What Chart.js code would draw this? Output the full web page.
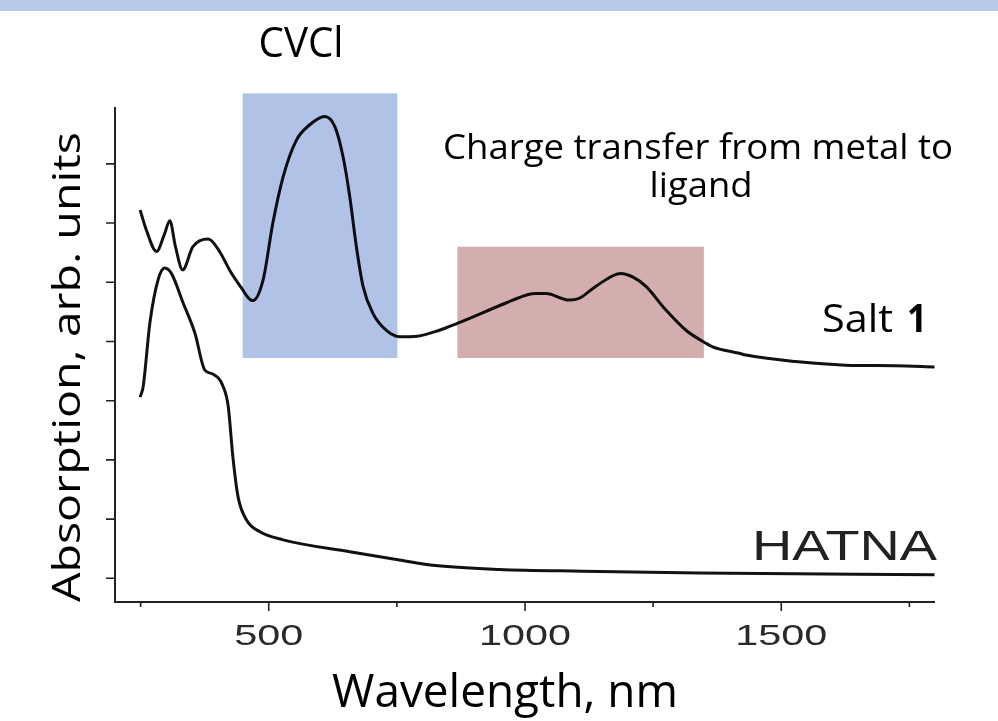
<!DOCTYPE html>
<html>
<head>
<meta charset="utf-8">
<script src="https://cdn.jsdelivr.net/npm/chart.js@4.4.0/dist/chart.umd.min.js"></script>
<style>
  html, body { margin: 0; padding: 0; background: #fff; }
  #wrap { width: 998px; height: 721px; position: relative; }
</style>
</head>
<body>
<div id="wrap"><canvas id="spectra" width="998" height="721"></canvas></div>
<script>
// Salt 1 spectrum (wavelength in nm, absorption in arbitrary units)
const saltWavelength = [249, 262, 281, 296, 307, 318, 332, 352, 382, 404, 424, 447, 462, 469, 489, 508, 528, 554, 580, 609, 629, 645, 658, 671, 684, 703, 729, 755, 790, 833, 869, 963, 1005, 1021, 1041, 1086, 1106, 1138, 1187, 1210, 1236, 1275, 1314, 1353, 1366, 1418, 1431, 1528, 1625, 1723, 1799];
const saltAbs = [6.22, 5.86, 5.52, 5.80, 6.04, 5.60, 5.21, 5.60, 5.73, 5.52, 5.20, 4.90, 4.72, 4.69, 5.04, 6.00, 6.78, 7.40, 7.66, 7.80, 7.63, 7.12, 6.45, 5.60, 4.93, 4.48, 4.19, 4.08, 4.09, 4.19, 4.31, 4.65, 4.79, 4.81, 4.81, 4.70, 4.73, 4.93, 5.15, 5.09, 4.93, 4.53, 4.19, 3.97, 3.91, 3.80, 3.77, 3.66, 3.60, 3.59, 3.57];

// HATNA spectrum
const hatnaWavelength = [249, 255, 268, 284, 297, 310, 333, 356, 375, 391, 411, 421, 430, 440, 457, 482, 528, 658, 755, 820, 950, 1112, 1340, 1799];
const hatnaAbs = [3.06, 3.24, 4.31, 5.04, 5.24, 5.15, 4.65, 4.14, 3.52, 3.45, 3.24, 2.90, 2.05, 1.38, 0.98, 0.79, 0.65, 0.45, 0.31, 0.22, 0.15, 0.12, 0.09, 0.06];

// highlighted absorption bands
const bandFrom = [449, 868];
const bandTo = [751, 1349];
const bandTop = [8.19, 5.60];
const bandBottom = [3.72, 3.72];
const bandColors = ['#b0c2e6', '#d4aeae'];

const xMajorTicks = [500, 1000, 1500];
const xMinorTicks = [250, 750, 1250, 1750];
const yTicks = [0, 1, 2, 3, 4, 5, 6, 7];

function toPoints(xs, ys) {
  return xs.map((x, i) => ({ x: x, y: ys[i] }));
}

// draw text squeezed or stretched to a given width
function fitText(ctx, text, x, y, font, width, align) {
  ctx.font = font;
  const w = ctx.measureText(text).width;
  ctx.save();
  ctx.translate(x, y);
  ctx.scale(width / w, 1);
  ctx.textAlign = align;
  ctx.textBaseline = 'alphabetic';
  ctx.fillText(text, 0, 0);
  ctx.restore();
}

const decorations = {
  id: 'decorations',
  beforeDraw(chart) {
    const ctx = chart.ctx;
    ctx.save();
    ctx.fillStyle = '#b8cce9';
    ctx.fillRect(0, 0, chart.width, 11);
    ctx.restore();
  },
  afterDatasetsDraw(chart) {
    const ctx = chart.ctx;
    const xs = chart.scales.x;
    const ys = chart.scales.y;
    const area = chart.chartArea;

    // shaded bands, multiplied over the curves
    ctx.save();
    ctx.globalCompositeOperation = 'multiply';
    bandFrom.forEach((from, i) => {
      const x0 = xs.getPixelForValue(from);
      const x1 = xs.getPixelForValue(bandTo[i]);
      const y0 = ys.getPixelForValue(bandTop[i]);
      const y1 = ys.getPixelForValue(bandBottom[i]);
      ctx.fillStyle = bandColors[i];
      ctx.fillRect(x0, y0, x1 - x0, y1 - y0);
    });
    ctx.restore();

    // axes and tick marks
    ctx.save();
    ctx.strokeStyle = '#222';
    ctx.lineWidth = 2;
    ctx.beginPath();
    ctx.moveTo(area.left, area.top);
    ctx.lineTo(area.left, area.bottom);
    ctx.lineTo(area.right, area.bottom);
    ctx.stroke();
    ctx.lineWidth = 1.6;
    ctx.beginPath();
    xMajorTicks.forEach(v => {
      const px = xs.getPixelForValue(v);
      ctx.moveTo(px, area.bottom);
      ctx.lineTo(px, area.bottom + 9);
    });
    xMinorTicks.forEach(v => {
      const px = xs.getPixelForValue(v);
      ctx.moveTo(px, area.bottom);
      ctx.lineTo(px, area.bottom + 5);
    });
    yTicks.forEach(v => {
      const py = ys.getPixelForValue(v);
      ctx.moveTo(area.left, py);
      ctx.lineTo(area.left - 9, py);
    });
    ctx.stroke();

    ctx.fillStyle = '#2a2a2a';
    xMajorTicks.forEach(v => {
      const label = String(v);
      fitText(ctx, label, xs.getPixelForValue(v), 645, '30px "Liberation Sans"', label.length * 23, 'center');
    });

    // titles and labels
    ctx.fillStyle = '#000';
    fitText(ctx, 'Wavelength, nm', 505, 707, '46px "Open Sans"', 346, 'center');
    ctx.save();
    ctx.translate(80, 367);
    ctx.rotate(-Math.PI / 2);
    fitText(ctx, 'Absorption, arb. units', 0, 0, '39px "Open Sans"', 470, 'center');
    ctx.restore();

    fitText(ctx, 'CVCl', 301, 57, '42px "Open Sans"', 85, 'center');
    fitText(ctx, 'Charge transfer from metal to', 698, 159, '35px "Open Sans"', 510, 'center');
    fitText(ctx, 'ligand', 701, 197, '35px "Open Sans"', 103, 'center');

    fitText(ctx, 'Salt', 822, 332, '39px "Open Sans"', 71, 'left');
    fitText(ctx, '1', 907, 332, 'bold 39px "Open Sans"', 20, 'left');

    ctx.fillStyle = '#222';
    fitText(ctx, 'HATNA', 752, 560, '42px "Liberation Sans"', 185, 'left');
    ctx.restore();
  }
};

const lineStyle = {
  borderColor: '#111',
  borderWidth: 3,
  pointRadius: 0,
  fill: false,
  cubicInterpolationMode: 'monotone'
};

new Chart(document.getElementById('spectra'), {
  type: 'line',
  data: {
    datasets: [
      Object.assign({ label: 'Salt 1', data: toPoints(saltWavelength, saltAbs) }, lineStyle),
      Object.assign({ label: 'HATNA', data: toPoints(hatnaWavelength, hatnaAbs) }, lineStyle)
    ]
  },
  options: {
    responsive: false,
    animation: false,
    layout: { padding: { left: 115, right: 63, top: 107, bottom: 119 } },
    plugins: {
      legend: { display: false },
      tooltip: { enabled: false }
    },
    scales: {
      x: { type: 'linear', min: 200, max: 1800, display: false },
      y: { type: 'linear', min: -0.4, max: 7.96, display: false }
    }
  },
  plugins: [decorations]
});
</script>
</body>
</html>
